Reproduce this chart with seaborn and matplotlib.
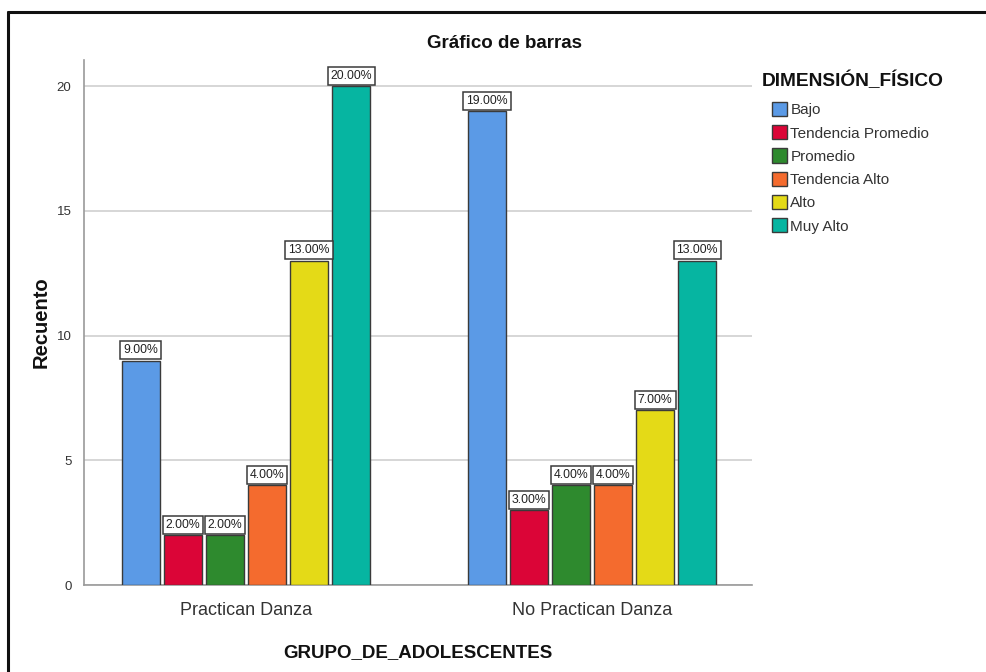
import matplotlib
matplotlib.use("Agg")
import matplotlib.pyplot as plt
from matplotlib.lines import Line2D
from matplotlib.patches import Patch
import seaborn as sns
import pandas as pd

grupos = ["Practican Danza", "No Practican Danza"]
niveles = ["Bajo", "Tendencia Promedio", "Promedio", "Tendencia Alto", "Alto", "Muy Alto"]
practican = [9, 2, 2, 4, 13, 20]
no_practican = [19, 3, 4, 4, 7, 13]
colores = ["#5B9AE6", "#DB0537", "#2E8A2E", "#F46B2E", "#E4DA17", "#06B5A1"]

rows = []
for g, vals in zip(grupos, [practican, no_practican]):
    for n, v in zip(niveles, vals):
        rows.append({"GRUPO_DE_ADOLESCENTES": g, "DIMENSIÓN_FÍSICO": n, "Recuento": v})
df = pd.DataFrame(rows)
total = df["Recuento"].sum()

sns.set_theme(style="white")
plt.rcParams["font.family"] = ["Liberation Sans", "DejaVu Sans"]

fig = plt.figure(figsize=(9.87, 6.72), dpi=100)
ax = fig.add_axes([84 / 987, 1 - 585 / 672, (752 - 84) / 987, (585 - 60) / 672])

sns.barplot(data=df, x="GRUPO_DE_ADOLESCENTES", y="Recuento", hue="DIMENSIÓN_FÍSICO",
            hue_order=niveles, order=grupos, palette=colores, width=0.73, gap=0.1,
            edgecolor="#3a3a3a", linewidth=1.0, saturation=1, ax=ax, legend=False, zorder=3)

ax.set_ylim(0, 21.05)
ax.set_xlim(-0.468, 1.462)
ax.set_yticks([0, 5, 10, 15, 20])
ax.yaxis.grid(True, color="#cfcfcf", linewidth=1.2, zorder=0)
ax.set_axisbelow(True)
for s in ["top", "right"]:
    ax.spines[s].set_visible(False)
for s in ["left", "bottom"]:
    ax.spines[s].set_color("#9a9a9a")
    ax.spines[s].set_linewidth(1.2)
ax.tick_params(axis="y", length=0, pad=9, labelsize=9.5, labelcolor="#333333")
ax.tick_params(axis="x", length=0, pad=12, labelsize=13, labelcolor="#333333")
ax.set_xlabel("GRUPO_DE_ADOLESCENTES", fontsize=13.5, fontweight="bold", labelpad=18, color="#111111")
ax.set_ylabel("Recuento", fontsize=14.5, fontweight="bold", labelpad=4, color="#111111")

# percentage boxes sitting on each bar
for cont in ax.containers:
    for bar in cont:
        h = bar.get_height()
        ax.annotate(f"{h / total * 100:.2f}%", (bar.get_x() + bar.get_width() / 2, h),
                    xytext=(0, 3.2), textcoords="offset points", ha="center", va="bottom",
                    fontsize=8.8, color="#222222", zorder=5,
                    bbox=dict(boxstyle="square,pad=0.24", fc="white", ec="#3a3a3a", lw=1.1))

fig.text(505 / 987, 1 - 44 / 672, "Gráfico de barras", ha="center", va="center",
         fontsize=13.5, fontweight="bold", color="#111111")

fig.text(762 / 987, 1 - 81 / 672, "DIMENSIÓN_FÍSICO", ha="left", va="center",
         fontsize=13.8, fontweight="bold", color="#111111")
handles = [Patch(facecolor=c, edgecolor="#3a3a3a", linewidth=1.0, label=n)
           for c, n in zip(colores, niveles)]
leg = fig.legend(handles=handles, loc="upper left",
                 bbox_to_anchor=(772 / 987, 1 - 102 / 672), frameon=False, fontsize=11,
                 handlelength=1.0, handleheight=1.05, handletextpad=0.2,
                 labelspacing=0.52, borderaxespad=0, borderpad=0)
for t in leg.get_texts():
    t.set_color("#333333")

# outer frame
fig.add_artist(Line2D([8 / 987, 8 / 987], [0, 1 - 12 / 672], transform=fig.transFigure,
                      color="#111111", linewidth=2.2))
fig.add_artist(Line2D([8 / 987, 1], [1 - 12 / 672, 1 - 12 / 672], transform=fig.transFigure,
                      color="#111111", linewidth=2.2))

fig.savefig("out.png", dpi=100, facecolor="white")
